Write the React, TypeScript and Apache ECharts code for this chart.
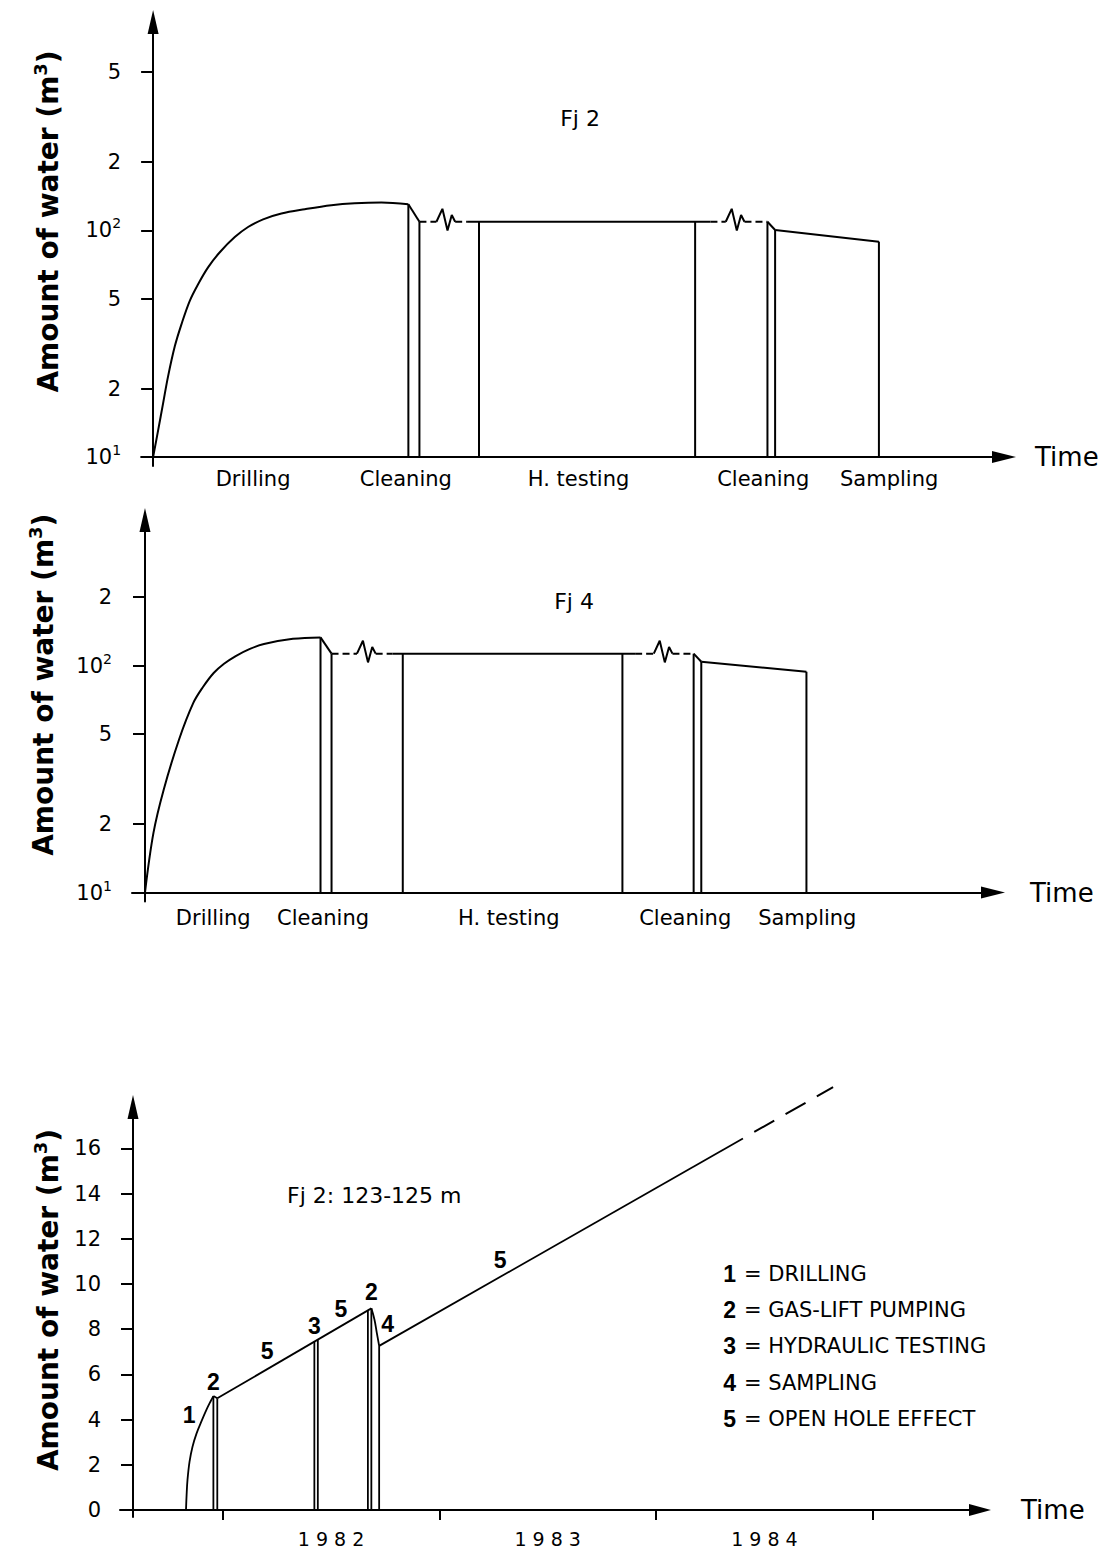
import React, { useEffect, useRef } from "react";
import * as echarts from "echarts";

// ---------- Fj 2 (upper log panel) : time in arbitrary units, water in m³ ----------
const fj2Drilling = [
  [0, 10], [0.59, 13.1], [1.18, 17.3], [1.76, 22.7], [2.55, 30.8], [3.33, 38.5],
  [4.31, 48.9], [5.29, 57.9], [6.46, 68.7], [7.84, 80.1], [9.6, 93.4], [11.16, 103.5],
  [12.93, 111.9], [15.08, 118.7], [17.83, 124.0], [20.95, 129.2], [23.7, 131.8],
  [26.83, 132.8], [30.0, 130.5],
];
const fj2Cleaning1 = [[30.0, 130.5], [31.3, 109.2]];
const fj2Testing = [[37.0, 109.2], [65.5, 109.2]];
const fj2Cleaning2 = [[72.2, 109.2], [73.1, 100.4]];
const fj2Sampling = [[73.1, 100.4], [85.3, 89.2]];
// stage boundaries: [time, level reached]
const fj2Walls = [[30.0, 130.5], [31.3, 109.2], [38.3, 109.2], [63.7, 109.2], [72.2, 109.2], [73.1, 100.4], [85.3, 89.2]];
// interrupted (time-break) stretches
const fj2Breaks = [
  { from: 31.3, to: 37.0, level: 109.2, zig: 33.3 },
  { from: 65.5, to: 72.2, level: 109.2, zig: 67.3 },
];
const fj2StageAt = [11.75, 29.7, 50.0, 71.7, 86.5];
const fj2Ticks = [10, 20, 50, 100, 200, 500];

// ---------- Fj 4 (middle log panel) ----------
const fj4Drilling = [
  [0, 10], [1.0, 18.3], [2.2, 28.3], [4.0, 47], [5.7, 68.4], [6.84, 80.4], [8.1, 92.7],
  [9.32, 101.8], [10.7, 110.1], [12.38, 118.4], [14.03, 124.4], [17.45, 131.1], [20.7, 133],
];
const fj4Cleaning1 = [[20.7, 133], [22.0, 112.8]];
const fj4Testing = [[29.2, 112.8], [57.8, 112.8]];
const fj4Cleaning2 = [[64.7, 112.8], [65.6, 103.9]];
const fj4Sampling = [[65.6, 103.9], [78.0, 93.9]];
const fj4Walls = [[20.7, 133], [22.0, 112.8], [30.4, 112.8], [56.3, 112.8], [64.7, 112.8], [65.6, 103.9], [78.0, 93.9]];
const fj4Breaks = [
  { from: 22.0, to: 29.2, level: 112.8, zig: 25.0 },
  { from: 57.8, to: 64.7, level: 112.8, zig: 60.0 },
];
const fj4StageAt = [8.05, 21.0, 42.9, 63.7, 78.1];
const fj4Ticks = [10, 20, 50, 100, 200];

const stageNames = ["Drilling", "Cleaning", "H. testing", "Cleaning", "Sampling"];

// ---------- Fj 2: 123-125 m (linear panel, time in years) ----------
const yrDrilling = [
  [1981.8306, 0], [1981.8334, 0.67], [1981.8375, 1.33], [1981.8468, 2.13], [1981.8606, 2.8],
  [1981.879, 3.38], [1981.9022, 3.93], [1981.9252, 4.44], [1981.9437, 4.8], [1981.957, 5.04],
];
const yrGasLift = [[1981.957, 5.04], [1981.975, 4.94]];
const yrOpenHole1 = [[1981.975, 4.94], [1982.686, 8.92]];
const yrSampling = [[1982.686, 8.92], [1982.7, 8.44], [1982.711, 7.85], [1982.722, 7.26]];
const yrOpenHole2 = [[1982.722, 7.26], [1984.401, 16.44]];
const yrOpenHoleTrend = [[1984.401, 16.44], [1984.817, 18.71]];
const yrWalls = [
  [1981.957, 5.04], [1981.975, 4.94], [1982.423, 7.45], [1982.439, 7.54],
  [1982.67, 8.83], [1982.686, 8.92], [1982.722, 7.26],
];
const yrStageMarks = [
  ["1", 1981.845, 4.2], ["2", 1981.957, 5.68], ["5", 1982.205, 7.04], ["3", 1982.423, 8.15],
  ["5", 1982.546, 8.89], ["2", 1982.686, 9.63], ["4", 1982.761, 8.22], ["5", 1983.28, 11.04],
];
const yearTicks = [1982, 1983, 1984, 1985];
const yearLabelAt = [1982.5, 1983.5, 1984.5];
const yearLabels = ["1 9 8 2", "1 9 8 3", "1 9 8 4"];
const amountTicks = [0, 2, 4, 6, 8, 10, 12, 14, 16];

const keyNumbers = ["1", "2", "3", "4", "5"];
const keyNames = ["DRILLING", "GAS-LIFT PUMPING", "HYDRAULIC TESTING", "SAMPLING", "OPEN HOLE EFFECT"];

// ---------- styling ----------
const INK = "#000";
const FONT = "'DejaVu Sans', 'Noto Sans', sans-serif";
const BOLD_FONT = "'Liberation Sans', Arial, sans-serif";
const AXIS_NAME = "{t|Amount of water (m}{u|3}{t|)}";
// break symbol: horizontal steps (time units) and vertical factors (log axis)
const ZIG_DX = [0, 0.7, 1.3, 1.8, 2.2];
const ZIG_F = [1, 1.14, 0.915, 1.07, 1];

const nameRich = {
  t: { fontSize: 28, fontWeight: "bold", fontFamily: FONT, color: INK, lineHeight: 34 },
  u: { fontSize: 18, fontWeight: "bold", fontFamily: FONT, color: INK, lineHeight: 16, verticalAlign: "top" },
};
const supRich = {
  p: { fontSize: 21, fontFamily: FONT, color: INK, lineHeight: 28 },
  s: { fontSize: 14, fontFamily: FONT, color: INK, lineHeight: 14, verticalAlign: "top" },
};

const logLabel = (v: number) => {
  const e = Math.floor(Math.log10(v) + 1e-9);
  const m = Math.round(v / Math.pow(10, e));
  return m === 1 ? `{p|10}{s|${e}}` : String(m);
};
const nearest = (pos: number[], names: string[]) => (v: number) => {
  let best = 0;
  pos.forEach((p, i) => {
    if (Math.abs(p - v) < Math.abs(pos[best] - v)) best = i;
  });
  return names[best];
};

function buildOption() {
  const series: any[] = [];
  const seg = (data: any[], g: number, opt: any = {}) =>
    series.push({
      type: "line",
      xAxisIndex: g,
      yAxisIndex: g,
      data,
      symbol: "none",
      showSymbol: false,
      silent: true,
      clip: opt.clip ?? true,
      smooth: opt.smooth ?? false,
      lineStyle: { color: INK, width: opt.width ?? 2, type: opt.type ?? "solid", dashOffset: opt.dashOffset ?? 0, cap: "butt" },
      z: 3,
    });
  const walls = (list: number[][], base: number, g: number, width = 2) =>
    list.forEach(([t, top]) => seg([[t, base], [t, top]], g, { width }));
  const breaks = (list: any[], g: number) =>
    list.forEach((b) => {
      const zigEnd = b.zig + ZIG_DX[ZIG_DX.length - 1];
      seg([[b.from, b.level], [b.zig, b.level]], g, { type: [7, 4] });
      seg(ZIG_DX.map((dx, i) => [b.zig + dx, b.level * ZIG_F[i]]), g);
      seg([[zigEnd, b.level], [b.to, b.level]], g, { type: [7, 4] });
    });

  // Fj 2
  seg(fj2Drilling, 0, { smooth: 0.35 });
  seg(fj2Cleaning1, 0);
  seg(fj2Testing, 0);
  seg(fj2Cleaning2, 0);
  seg(fj2Sampling, 0);
  walls(fj2Walls, 10, 0);
  breaks(fj2Breaks, 0);
  // Fj 4
  seg(fj4Drilling, 1, { smooth: 0.35 });
  seg(fj4Cleaning1, 1);
  seg(fj4Testing, 1);
  seg(fj4Cleaning2, 1);
  seg(fj4Sampling, 1);
  walls(fj4Walls, 10, 1);
  breaks(fj4Breaks, 1);
  // Fj 2: 123-125 m
  seg(yrDrilling, 2, { smooth: 0.35, width: 1.8 });
  seg(yrGasLift, 2, { width: 1.8 });
  seg(yrOpenHole1, 2, { width: 1.8 });
  seg(yrSampling, 2, { smooth: 0.4, width: 1.8 });
  seg(yrOpenHole2, 2, { width: 1.8 });
  seg(yrOpenHoleTrend, 2, { width: 2, type: [23, 13], dashOffset: 23, clip: false });
  walls(yrWalls, 0, 2, 1.8);
  series.push({
    type: "scatter",
    xAxisIndex: 2,
    yAxisIndex: 2,
    symbol: "circle",
    symbolSize: 1,
    silent: true,
    itemStyle: { color: "rgba(255,255,255,0)", opacity: 1 },
    data: yrStageMarks.map(([n, t, v]) => ({ name: n, value: [t, v] })),
    label: {
      show: true,
      position: "inside",
      formatter: "{b}",
      color: INK,
      opacity: 1,
      textBorderWidth: 0,
      fontSize: 23,
      fontWeight: "bold",
      fontFamily: BOLD_FONT,
    },
  });

  const axisLine = (size: number[], onZero: boolean) => ({
    show: true,
    onZero,
    symbol: ["none", "triangle"],
    symbolSize: size,
    lineStyle: { color: INK, width: 2 },
  });
  const timeName = { color: INK, fontSize: 26, fontFamily: FONT, verticalAlign: "middle" };
  const stageAxis = (g: number, min: number, at: number[], gap: number, margin: number) => ({
    type: "value",
    gridIndex: g,
    min,
    max: 100,
    offset: -9,
    axisLine: axisLine([12, 24], false),
    axisTick: { show: false },
    splitLine: { show: false },
    axisLabel: {
      customValues: at,
      formatter: nearest(at, stageNames),
      margin,
      color: INK,
      fontSize: 21,
      fontFamily: FONT,
    },
    name: "Time",
    nameLocation: "end",
    nameGap: gap,
    nameTextStyle: timeName,
  });
  const logAxis = (g: number, min: number, max: number, ticks: number[], gap: number, lift: number) => ({
    type: "log",
    logBase: 10,
    gridIndex: g,
    min,
    max,
    axisLine: axisLine([11, 24], true),
    axisTick: { show: true, length: 12, customValues: ticks, lineStyle: { color: INK, width: 2 } },
    minorTick: { show: false },
    splitLine: { show: false },
    axisLabel: { customValues: ticks, formatter: logLabel, margin: 20, color: INK, fontSize: 21, fontFamily: FONT, rich: supRich },
    name: AXIS_NAME,
    nameLocation: "middle",
    nameRotate: 90,
    nameGap: gap,
    nameTextStyle: { rich: nameRich, padding: [0, 0, 0, lift] },
  });

  const textEl = (x: number, y: number, text: string, size: number, align = "center", weight = "normal", family = FONT) => ({
    type: "text",
    x,
    y,
    silent: true,
    style: {
      text,
      fill: INK,
      fontSize: size,
      fontWeight: weight,
      fontFamily: family,
      align,
      textAlign: align,
      verticalAlign: "middle",
      textVerticalAlign: "middle",
    },
  });

  const graphic: any[] = [
    textEl(580, 118, "Fj 2", 22),
    textEl(574, 601, "Fj 4", 22),
    textEl(287, 1195, "Fj 2: 123-125 m", 22, "left"),
  ];
  keyNumbers.forEach((n, i) => {
    const y = 1274 + i * 36.2;
    graphic.push(textEl(736, y, n, 23, "right", "bold", BOLD_FONT));
    graphic.push(textEl(744, y, "= " + keyNames[i], 21, "left"));
  });

  return {
    animation: false,
    backgroundColor: "#fff",
    textStyle: { fontFamily: FONT, color: INK },
    grid: [
      { left: 141.1, top: 22, width: 862.9, height: 444, outerBoundsMode: "none", containLabel: false },
      { left: 132, top: 520, width: 861, height: 381.5, outerBoundsMode: "none", containLabel: false },
      { left: 120, top: 1107, width: 860, height: 410, outerBoundsMode: "none", containLabel: false },
    ],
    xAxis: [
      stageAxis(0, -1.41, fj2StageAt, 31, 11),
      stageAxis(1, -1.53, fj4StageAt, 37, 15),
      {
        type: "value",
        gridIndex: 2,
        min: 1981.526,
        max: 1985.495,
        axisLine: axisLine([12, 22], true),
        axisTick: { show: true, length: 10, customValues: yearTicks, lineStyle: { color: INK, width: 2 } },
        splitLine: { show: false },
        axisLabel: {
          customValues: yearLabelAt,
          formatter: nearest(yearLabelAt, yearLabels),
          margin: 12,
          color: INK,
          fontSize: 19,
          fontFamily: FONT,
        },
        name: "Time",
        nameLocation: "end",
        nameGap: 41,
        nameTextStyle: timeName,
      },
    ],
    yAxis: [
      logAxis(0, 9.127, 831, fj2Ticks, 76, 45),
      logAxis(1, 9.13, 437.5, fj4Ticks, 72, 52),
      {
        type: "value",
        gridIndex: 2,
        min: -0.31,
        max: 17.83,
        offset: -13,
        axisLine: axisLine([11, 24], false),
        axisTick: { show: true, length: 12, customValues: amountTicks, lineStyle: { color: INK, width: 2 } },
        splitLine: { show: false },
        axisLabel: { customValues: amountTicks, margin: 32, color: INK, fontSize: 21, fontFamily: FONT },
        name: AXIS_NAME,
        nameLocation: "middle",
        nameRotate: 90,
        nameGap: 68,
        nameTextStyle: { rich: nameRich, padding: [0, 0, 0, 24] },
      },
    ],
    graphic,
    series,
  };
}

export default function App() {
  const ref = useRef<HTMLDivElement>(null);
  useEffect(() => {
    const chart = echarts.init(ref.current!, null, { renderer: "svg" });
    chart.setOption(buildOption() as any);
    return () => chart.dispose();
  }, []);
  return (
    <div
      ref={ref}
      style={{ position: "absolute", left: 0, top: 0, width: 1107, height: 1555, background: "#fff" }}
    />
  );
}
